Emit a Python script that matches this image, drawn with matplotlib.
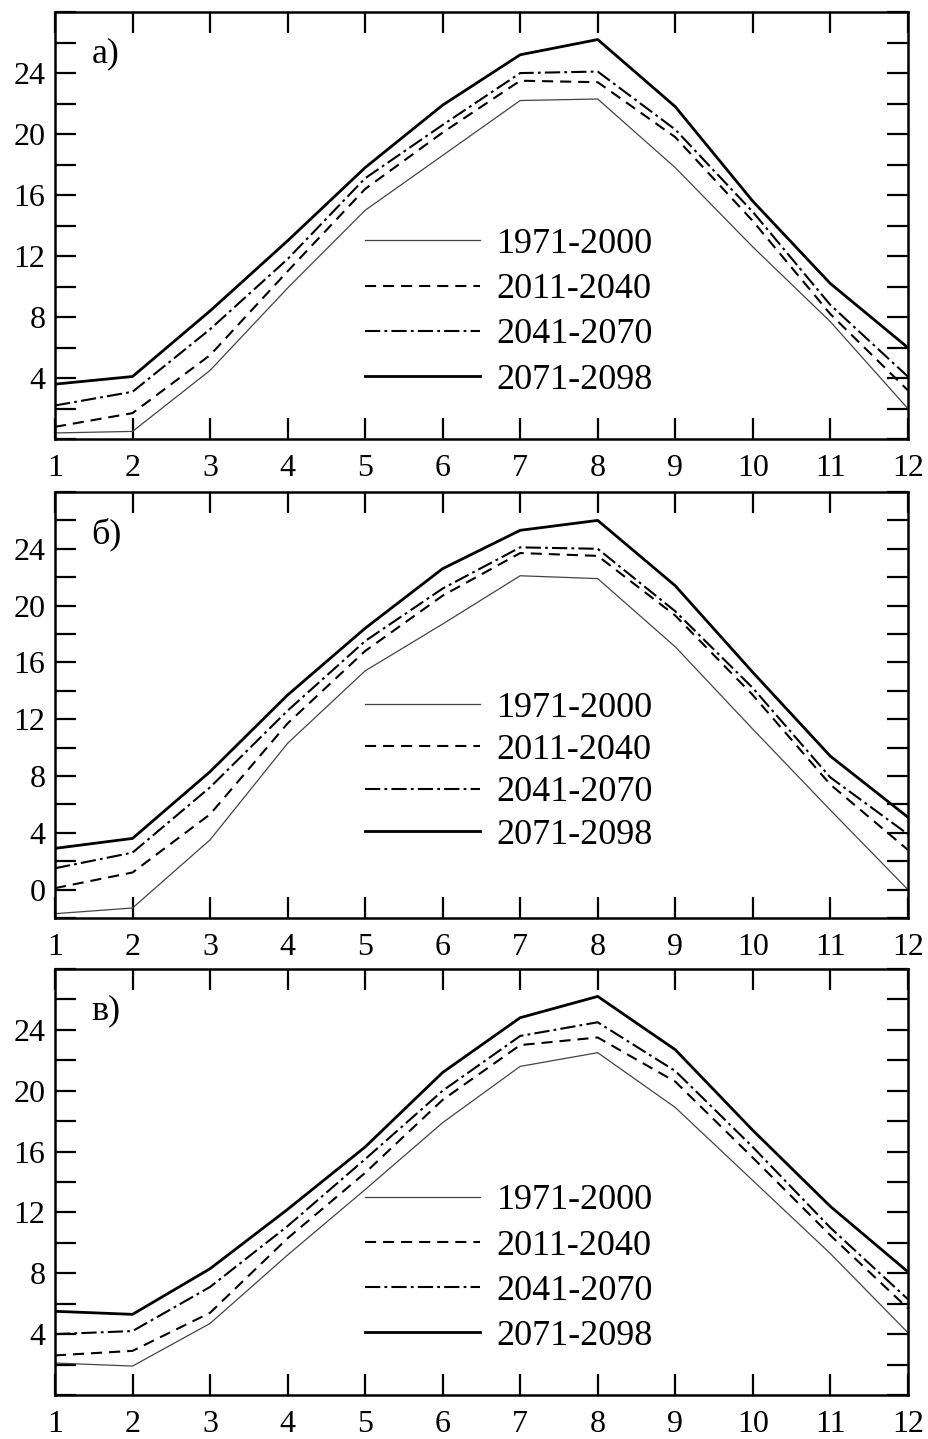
import numpy as np
import matplotlib
matplotlib.use('Agg')
import matplotlib.pyplot as plt
from matplotlib.ticker import MultipleLocator

plt.rcParams['font.family'] = ['Liberation Serif', 'DejaVu Serif']
plt.rcParams['lines.scale_dashes'] = False

months = list(range(1, 13))
periods = ['1971-2000', '2011-2040', '2041-2070', '2071-2098']
panel_labels = ['а)', 'б)', 'в)']

# panel a
a_1971 = [0.4, 0.5, 4.5, 9.9, 15.0, 18.6, 22.2, 22.3, 17.8, 12.6, 7.7, 2.0]
a_2011 = [0.8, 1.7, 5.5, 11.0, 16.4, 20.1, 23.5, 23.4, 19.8, 14.3, 8.2, 3.2]
a_2041 = [2.2, 3.1, 7.2, 11.8, 17.1, 20.6, 24.0, 24.1, 20.3, 14.9, 8.8, 4.1]
a_2071 = [3.6, 4.1, 8.4, 13.0, 17.8, 21.9, 25.2, 26.2, 21.8, 15.6, 10.2, 6.0]

# panel b
b_1971 = [-1.7, -1.3, 3.5, 10.3, 15.4, 18.7, 22.1, 21.9, 17.1, 11.3, 5.6, 0.0]
b_2011 = [0.1, 1.2, 5.3, 11.7, 16.8, 20.7, 23.7, 23.5, 19.3, 13.7, 7.4, 2.8]
b_2041 = [1.5, 2.6, 7.2, 12.6, 17.5, 21.2, 24.1, 24.0, 19.6, 14.2, 7.9, 3.9]
b_2071 = [2.9, 3.6, 8.3, 13.7, 18.4, 22.6, 25.3, 26.0, 21.4, 15.3, 9.4, 5.1]

# panel c
c_1971 = [2.1, 1.9, 4.7, 9.2, 13.5, 17.9, 21.6, 22.5, 18.9, 14.1, 9.3, 4.1]
c_2011 = [2.6, 2.9, 5.4, 10.3, 14.6, 19.4, 23.0, 23.5, 20.6, 15.6, 10.5, 5.7]
c_2041 = [4.0, 4.2, 7.1, 11.1, 15.5, 20.0, 23.6, 24.5, 21.3, 16.3, 11.0, 6.3]
c_2071 = [5.5, 5.3, 8.3, 12.2, 16.3, 21.2, 24.8, 26.2, 22.7, 17.4, 12.4, 8.1]

panels = [
    ([a_1971, a_2011, a_2041, a_2071], (0, 28), [4, 8, 12, 16, 20, 24]),
    ([b_1971, b_2011, b_2041, b_2071], (-2, 28), [0, 4, 8, 12, 16, 20, 24]),
    ([c_1971, c_2011, c_2041, c_2071], (0, 28), [4, 8, 12, 16, 20, 24]),
]

styles = [
    dict(color='#444444', lw=0.9, ls='-'),
    dict(color='black', lw=1.5, dashes=(8, 5)),
    dict(color='black', lw=1.5, dashes=(11, 3, 2, 3)),
    dict(color='black', lw=2.0, ls='-'),
]

fig = plt.figure(figsize=(9.29, 14.39), dpi=100)
rects = [
    [0.0592, 0.6949, 0.918, 0.2967],
    [0.0592, 0.3621, 0.918, 0.2960],
    [0.0592, 0.0306, 0.918, 0.2960],
]
leg_y = [0.495, 0.532, 0.495]
leg_space = [0.33, 0.25, 0.33]

for i, (series, ylim, yt) in enumerate(panels):
    ax = fig.add_axes(rects[i])
    for vals, name, st in zip(series, periods, styles):
        ax.plot(months, vals, label=name, **st)
    ax.set_xlim(1, 12)
    ax.set_ylim(*ylim)
    ax.set_xticks(months)
    ax.set_yticks(yt)
    ax.yaxis.set_minor_locator(MultipleLocator(2))
    ax.tick_params(which='both', direction='in', top=True, right=True,
                   length=15, width=1.6, labelsize=23)
    ax.tick_params(axis='x', pad=11)
    ax.tick_params(axis='y', pad=7)
    for sp in ax.spines.values():
        sp.set_linewidth(1.8)
    ax.text(0.043, 0.94, panel_labels[i], transform=ax.transAxes,
            fontsize=26, va='top', ha='left')
    ax.legend(loc='upper left', bbox_to_anchor=(0.363, leg_y[i]),
              frameon=False, fontsize=26, handlelength=3.2,
              handletextpad=0.45, labelspacing=leg_space[i],
              borderpad=0, borderaxespad=0)

fig.savefig('out.png', dpi=100)
